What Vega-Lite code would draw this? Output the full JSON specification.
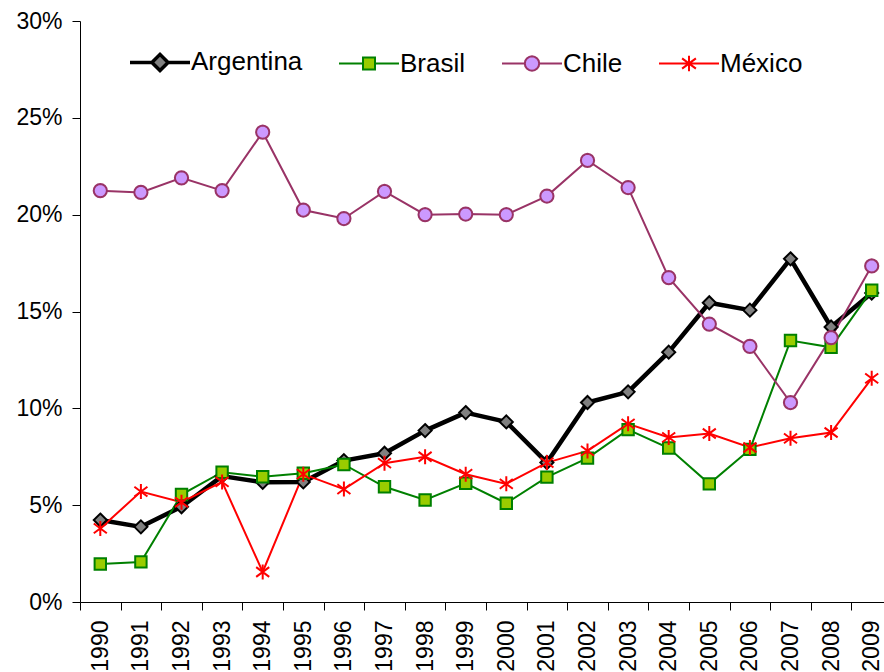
{
  "$schema": "https://vega.github.io/schema/vega-lite/v6.json",
  "width": 812,
  "height": 581,
  "autosize": {"type": "none"},
  "padding": {"left": 80, "top": 21, "right": 0, "bottom": 70},
  "background": "white",
  "config": {
    "view": {"stroke": null},
    "font": "Liberation Sans",
    "axis": {
      "labelFont": "Liberation Sans",
      "labelFontSize": 23,
      "labelColor": "black",
      "domainColor": "black",
      "tickColor": "black",
      "tickSize": 8,
      "labelPadding": 10,
      "grid": false,
      "title": null,
      "labelOverlap": false,
      "labelBound": false
    },
    "legend": {
      "labelFont": "Liberation Sans",
      "labelFontSize": 26,
      "labelColor": "black",
      "padding": 0,
      "rowPadding": 0
    }
  },
  "data": {
    "values": [
      {"year": "1990", "country": "Argentina", "value": 0.0423},
      {"year": "1991", "country": "Argentina", "value": 0.0388},
      {"year": "1992", "country": "Argentina", "value": 0.0492},
      {"year": "1993", "country": "Argentina", "value": 0.065},
      {"year": "1994", "country": "Argentina", "value": 0.0618},
      {"year": "1995", "country": "Argentina", "value": 0.062},
      {"year": "1996", "country": "Argentina", "value": 0.073},
      {"year": "1997", "country": "Argentina", "value": 0.0768},
      {"year": "1998", "country": "Argentina", "value": 0.0885},
      {"year": "1999", "country": "Argentina", "value": 0.0978},
      {"year": "2000", "country": "Argentina", "value": 0.093},
      {"year": "2001", "country": "Argentina", "value": 0.072},
      {"year": "2002", "country": "Argentina", "value": 0.103},
      {"year": "2003", "country": "Argentina", "value": 0.1085},
      {"year": "2004", "country": "Argentina", "value": 0.129},
      {"year": "2005", "country": "Argentina", "value": 0.1545},
      {"year": "2006", "country": "Argentina", "value": 0.1507},
      {"year": "2007", "country": "Argentina", "value": 0.1772},
      {"year": "2008", "country": "Argentina", "value": 0.142},
      {"year": "2009", "country": "Argentina", "value": 0.1595},
      {"year": "1990", "country": "Brasil", "value": 0.0196},
      {"year": "1991", "country": "Brasil", "value": 0.0207},
      {"year": "1992", "country": "Brasil", "value": 0.0555},
      {"year": "1993", "country": "Brasil", "value": 0.067},
      {"year": "1994", "country": "Brasil", "value": 0.0647},
      {"year": "1995", "country": "Brasil", "value": 0.0665},
      {"year": "1996", "country": "Brasil", "value": 0.071},
      {"year": "1997", "country": "Brasil", "value": 0.0595},
      {"year": "1998", "country": "Brasil", "value": 0.0527},
      {"year": "1999", "country": "Brasil", "value": 0.0613},
      {"year": "2000", "country": "Brasil", "value": 0.051},
      {"year": "2001", "country": "Brasil", "value": 0.0645},
      {"year": "2002", "country": "Brasil", "value": 0.0743},
      {"year": "2003", "country": "Brasil", "value": 0.089},
      {"year": "2004", "country": "Brasil", "value": 0.0795},
      {"year": "2005", "country": "Brasil", "value": 0.061},
      {"year": "2006", "country": "Brasil", "value": 0.0788},
      {"year": "2007", "country": "Brasil", "value": 0.135},
      {"year": "2008", "country": "Brasil", "value": 0.1315},
      {"year": "2009", "country": "Brasil", "value": 0.161},
      {"year": "1990", "country": "Chile", "value": 0.2124},
      {"year": "1991", "country": "Chile", "value": 0.2115},
      {"year": "1992", "country": "Chile", "value": 0.219},
      {"year": "1993", "country": "Chile", "value": 0.2124},
      {"year": "1994", "country": "Chile", "value": 0.2426},
      {"year": "1995", "country": "Chile", "value": 0.2024},
      {"year": "1996", "country": "Chile", "value": 0.198},
      {"year": "1997", "country": "Chile", "value": 0.212},
      {"year": "1998", "country": "Chile", "value": 0.2},
      {"year": "1999", "country": "Chile", "value": 0.2003},
      {"year": "2000", "country": "Chile", "value": 0.2},
      {"year": "2001", "country": "Chile", "value": 0.2096},
      {"year": "2002", "country": "Chile", "value": 0.228},
      {"year": "2003", "country": "Chile", "value": 0.214},
      {"year": "2004", "country": "Chile", "value": 0.1675},
      {"year": "2005", "country": "Chile", "value": 0.1435},
      {"year": "2006", "country": "Chile", "value": 0.132},
      {"year": "2007", "country": "Chile", "value": 0.103},
      {"year": "2008", "country": "Chile", "value": 0.1365},
      {"year": "2009", "country": "Chile", "value": 0.1735},
      {"year": "1990", "country": "México", "value": 0.038},
      {"year": "1991", "country": "México", "value": 0.057},
      {"year": "1992", "country": "México", "value": 0.0515},
      {"year": "1993", "country": "México", "value": 0.062},
      {"year": "1994", "country": "México", "value": 0.0155},
      {"year": "1995", "country": "México", "value": 0.066},
      {"year": "1996", "country": "México", "value": 0.0583},
      {"year": "1997", "country": "México", "value": 0.0717},
      {"year": "1998", "country": "México", "value": 0.075},
      {"year": "1999", "country": "México", "value": 0.066},
      {"year": "2000", "country": "México", "value": 0.061},
      {"year": "2001", "country": "México", "value": 0.072},
      {"year": "2002", "country": "México", "value": 0.078},
      {"year": "2003", "country": "México", "value": 0.092},
      {"year": "2004", "country": "México", "value": 0.085},
      {"year": "2005", "country": "México", "value": 0.087},
      {"year": "2006", "country": "México", "value": 0.0798},
      {"year": "2007", "country": "México", "value": 0.0845},
      {"year": "2008", "country": "México", "value": 0.0875},
      {"year": "2009", "country": "México", "value": 0.1155}
    ]
  },
  "encoding": {
    "x": {
      "field": "year",
      "type": "ordinal",
      "scale": {"type": "band", "paddingInner": 0, "paddingOuter": 0},
      "axis": {"labelAngle": -90, "tickBand": "extent"}
    },
    "y": {
      "field": "value",
      "type": "quantitative",
      "scale": {"domain": [0, 0.3], "nice": false},
      "axis": {"values": [0, 0.05, 0.1, 0.15, 0.2, 0.25, 0.3], "format": ".0%", "labelFlush": false}
    }
  },
  "layer": [
    {
      "transform": [{"filter": "datum.country === 'Argentina'"}],
      "mark": {"type": "line", "strokeWidth": 4.5, "strokeJoin": "round"},
      "encoding": {
        "stroke": {
          "field": "country",
          "type": "nominal",
          "scale": {"range": ["#000000", "#008000", "#993366", "#FF0000"]},
          "legend": {
            "orient": "none",
            "legendX": 50,
            "legendY": 28,
            "direction": "horizontal",
            "title": null,
            "symbolType": "stroke",
            "symbolSize": 3600,
            "symbolStrokeWidth": 2,
            "symbolOffset": 17,
            "labelOffset": 18,
            "columnPadding": 32,
            "encode": {
              "symbols": {
                "update": {
                  "shape": {"signal": "datum.value === 'Argentina' ? 'M-1,0H-0.27M0.27,0H1M-0.27,0L0,-0.27L0.27,0L0,0.27Z' : datum.value === 'Brasil' ? 'M-1,0H-0.2M0.2,0H1M-0.2,-0.2H0.2V0.2H-0.2Z' : datum.value === 'Chile' ? 'M-1,0H-0.24M0.24,0H1M0.24,0L0.222,0.092L0.17,0.17L0.092,0.222L0,0.24L-0.092,0.222L-0.17,0.17L-0.222,0.092L-0.24,0L-0.222,-0.092L-0.17,-0.17L-0.092,-0.222L0,-0.24L0.092,-0.222L0.17,-0.17L0.222,-0.092Z' : 'M-1,0H1M0,-0.26V0.26M-0.23,-0.17L0.23,0.17M-0.23,0.17L0.23,-0.17'"},
                  "fill": {"signal": "datum.value === 'Argentina' ? '#808080' : datum.value === 'Brasil' ? '#99CC00' : datum.value === 'Chile' ? '#CC99FF' : 'transparent'"},
                  "strokeWidth": {"signal": "datum.value === 'Argentina' ? 3.5 : 2"},
                  "opacity": {"value": 1},
                  "fillOpacity": {"value": 1}
                }
              }
            }
          }
        }
      }
    },
    {
      "transform": [{"filter": "datum.country !== 'Argentina'"}],
      "mark": {"type": "line", "strokeWidth": 2},
      "encoding": {
        "stroke": {"field": "country", "type": "nominal", "legend": null}
      }
    },
    {
      "mark": {"type": "point", "filled": true, "opacity": 1, "size": 225, "strokeWidth": 2},
      "encoding": {
        "stroke": {"field": "country", "type": "nominal", "legend": null},
        "fill": {
          "field": "country",
          "type": "nominal",
          "scale": {"domain": ["Argentina", "Brasil", "Chile", "México"], "range": ["#808080", "#99CC00", "#CC99FF", "transparent"]},
          "legend": null
        },
        "shape": {
          "field": "country",
          "type": "nominal",
          "scale": {
            "domain": ["Argentina", "Brasil", "Chile", "México"],
            "range": [
              "M0,-0.87L0.87,0L0,0.87L-0.87,0Z",
              "M-0.76,-0.76H0.76V0.76H-0.76Z",
              "M0.88,0L0.813,0.337L0.622,0.622L0.337,0.813L0,0.88L-0.337,0.813L-0.622,0.622L-0.813,0.337L-0.88,0L-0.813,-0.337L-0.622,-0.622L-0.337,-0.813L0,-0.88L0.337,-0.813L0.622,-0.622L0.813,-0.337Z",
              "M0,-1V1M-0.87,-0.65L0.87,0.65M-0.87,0.65L0.87,-0.65"
            ]
          },
          "legend": null
        }
      }
    }
  ]
}
